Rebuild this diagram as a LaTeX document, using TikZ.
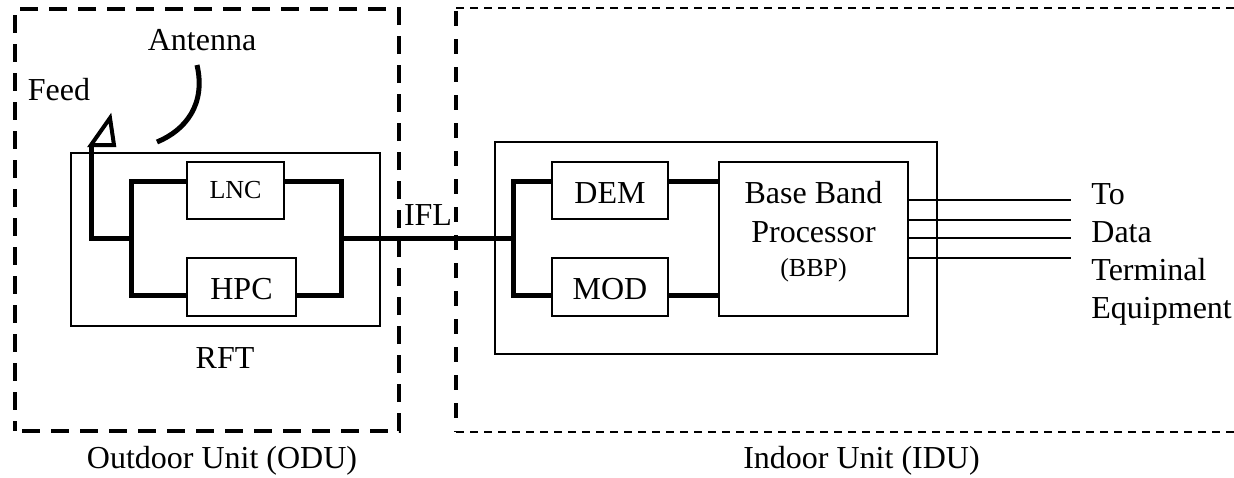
\documentclass[tikz,border=0pt]{standalone}
\usepackage{fontspec}
\setmainfont{Liberation Serif}
\usetikzlibrary{shapes,arrows}
\tikzstyle{block} = [rectangle, draw, fill=white, inner sep=0pt, line width=0.75pt]
\tikzstyle{tall} = [text height=12.5pt, text depth=0pt]
\tikzstyle{outer} = [rectangle, draw, inner sep=0pt, line width=0.7pt]
\tikzstyle{frame} = [rectangle, draw, inner sep=0pt, line width=1.9pt, dash pattern=on 9pt off 5.5pt, dash phase=11pt]
\tikzstyle{line} = [draw, line width=2.5pt]
\tikzstyle{wire} = [draw, line width=0.8pt]
\tikzstyle{edge} = [draw, line width=1.8pt, dash pattern=on 7.7pt off 6.3pt, dash phase=12.5pt]
\tikzstyle{rim} = [draw, line width=1pt, dash pattern=on 4.2pt off 2.8pt]
\tikzstyle{label} = [inner sep=0pt, anchor=base]

\begin{document}
\begin{tikzpicture}[font=\fontsize{16}{19}\selectfont]
\useasboundingbox (0,0) rectangle (617pt,-238.5pt);
% Place nodes
	\node [frame, minimum width=192pt, minimum height=211pt] (ODU) at (103.5pt,-110pt) {};
	\node [outer, minimum width=154.5pt, minimum height=86.5pt] (RFT) at (112.75pt,-119.75pt) {};
	\node [block, minimum width=48.5pt, minimum height=28.5pt, font=\fontsize{13}{15}\selectfont] (LNC) at (117.75pt,-95.25pt) {LNC};
	\node [block, tall, minimum width=54.5pt, minimum height=29pt] (HPC) at (120.75pt,-143.5pt) {HPC};

	\node [outer, minimum width=221pt, minimum height=106pt] (IDU) at (358pt,-124pt) {};
	\node [block, tall, minimum width=58pt, minimum height=28.5pt] (DEM) at (305pt,-95.25pt) {DEM};
	\node [block, tall, minimum width=58pt, minimum height=29pt] (MOD) at (305pt,-143.5pt) {MOD};
	\node [block, minimum width=94.5pt, minimum height=77pt] (BBP) at (406.75pt,-119.5pt) {};

	\node [label] (antennaText) at (101pt,-25pt) {Antenna};
	\node [label] (feedText) at (29.5pt,-50pt) {Feed};
	\node [label] (iflText) at (214pt,-112.5pt) {IFL};
	\node [label] (rftText) at (112.5pt,-184pt) {RFT};
	\node [label] (baseText) at (406.75pt,-101.5pt) {Base Band};
	\node [label] (procText) at (406.75pt,-121pt) {Processor};
	\node [label, font=\fontsize{13}{15}\selectfont] (bbpText) at (406.75pt,-138pt) {(BBP)};
	\node [inner sep=0pt, anchor=base west, align=left] (teText) at (545.5pt,-159pt) {To\\Data\\Terminal\\Equipment};
	\node [label] (oduText) at (111pt,-234pt) {Outdoor Unit (ODU)};
	\node [label] (iduText) at (430.75pt,-234pt) {Indoor Unit (IDU)};

% Junctions and free ends
	\coordinate (tapL) at (65.5pt,-119pt);
	\coordinate (tapR) at (170.5pt,-119pt);
	\coordinate (tapI) at (256.5pt,-119pt);
	\coordinate (bend) at (45.5pt,-119pt);
	\coordinate (horn) at (45.5pt,-72.5pt);
	\coordinate (hornA) at (55pt,-59pt);
	\coordinate (hornB) at (57pt,-72.5pt);
	\coordinate (dishA) at (98.5pt,-32.5pt);
	\coordinate (dishB) at (78.5pt,-71pt);
	\coordinate (outA) at (535.5pt,-100pt);
	\coordinate (outB) at (535.5pt,-110pt);
	\coordinate (outC) at (535.5pt,-119pt);
	\coordinate (outD) at (535.5pt,-129pt);
	\coordinate (iduTL) at (228pt,-4pt);
	\coordinate (iduBL) at (228pt,-216pt);
	\coordinate (iduTR) at (617pt,-4pt);
	\coordinate (iduBR) at (617pt,-216pt);

% Draw edges
	\path [line] ([yshift=4.75pt]LNC.west) -| (tapL) |- ([yshift=-4.25pt]HPC.west);
	\path [line] ([yshift=4.75pt]LNC.east) -| (tapR) |- ([yshift=-4.25pt]HPC.east);
	\path [line] (tapL) -- (bend) -- (horn);
	\path [line] (tapR) -- (tapI);
	\path [line] ([yshift=4.75pt]DEM.west) -| (tapI) |- ([yshift=-4.25pt]MOD.west);
	\path [line] ([yshift=4.75pt]DEM.east) -- ([yshift=4.75pt]BBP.west |- DEM.east);
	\path [line] ([yshift=-4.25pt]MOD.east) -- ([yshift=-4.25pt]BBP.west |- MOD.east);
	\path [draw, line width=2pt] (horn) -- (hornA) -- (hornB) -- cycle;
	\path [line] (dishA) .. controls (103pt,-52pt) and (93pt,-65pt) .. (dishB);
	\path [wire] ([yshift=19.5pt]BBP.east) -- (outA);
	\path [wire] ([yshift=9.5pt]BBP.east) -- (outB);
	\path [wire] ([yshift=0.5pt]BBP.east) -- (outC);
	\path [wire] ([yshift=-9.5pt]BBP.east) -- (outD);
	\path [edge] (iduTL) -- (iduBL);
	\path [rim] (iduTL) -- (iduTR);
	\path [rim] (iduBL) -- (iduBR);

\end{tikzpicture}
\end{document}
